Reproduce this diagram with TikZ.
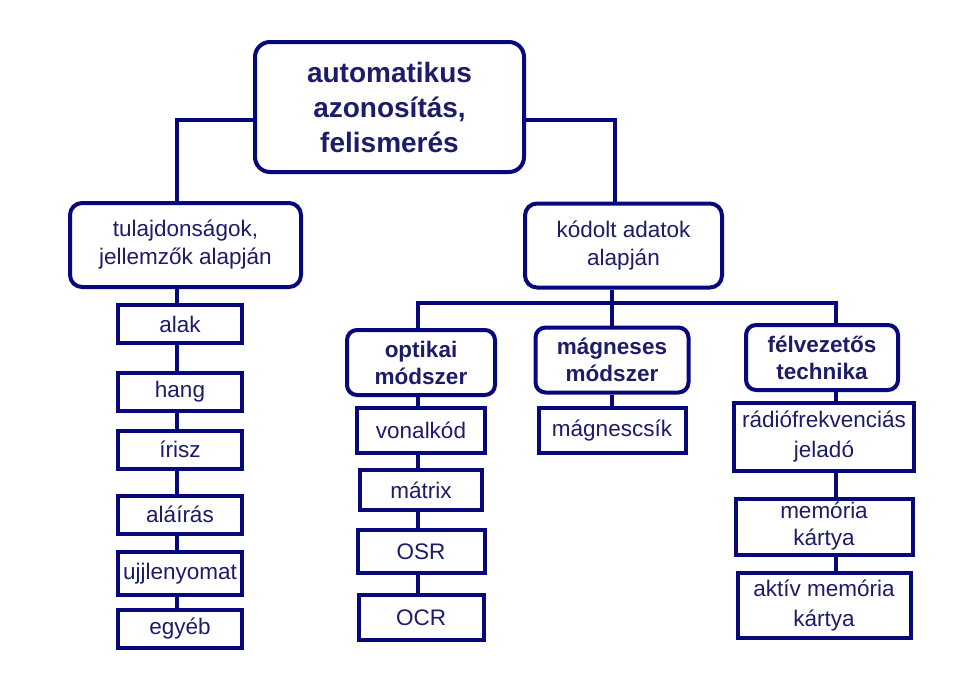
\documentclass[tikz,border=0pt]{standalone}
\usepackage{fontspec}
\setmainfont{Liberation Sans}
\definecolor{boxnavy}{RGB}{8,8,125}
\definecolor{inknavy}{RGB}{28,28,105}

\begin{document}
\begin{tikzpicture}[
    x=1pt, y=-1pt,
    rootbox/.style={
        rectangle,
        rounded corners=15pt,
        minimum width=269pt,
        minimum height=130pt,
        draw=boxnavy,
        line width=4pt,
        fill=white,
        text=inknavy,
        inner sep=0pt,
        font=\fontsize{28}{35}\selectfont\bfseries,
        align=center
    },
    groupbox/.style={
        rectangle,
        rounded corners=12pt,
        minimum height=84pt,
        draw=boxnavy,
        line width=4pt,
        fill=white,
        text=inknavy,
        inner sep=0pt,
        font=\fontsize{22.5}{28}\selectfont,
        align=center
    },
    methodbox/.style={
        rectangle,
        rounded corners=10pt,
        minimum width=150pt,
        minimum height=65pt,
        draw=boxnavy,
        line width=4pt,
        fill=white,
        text=inknavy,
        inner sep=0pt,
        font=\fontsize{22.5}{27}\selectfont\bfseries,
        align=center
    },
    leafbox/.style={
        rectangle,
        minimum width=124pt,
        minimum height=38pt,
        draw=boxnavy,
        line width=4pt,
        fill=white,
        text=inknavy,
        inner sep=0pt,
        font=\fontsize{22.5}{30}\selectfont,
        align=center
    },
    link/.style={
        draw=boxnavy,
        line width=4pt
    }
]
\useasboundingbox (0,0) rectangle (979,672);

\node[rootbox] (root) at (389.5,107) {automatikus\\azonosítás,\\felismerés};

\node[groupbox, minimum width=231pt] (tulaj) at (185.5,245) {tulajdonságok,\\jellemzők alapján};
\node[groupbox, minimum width=197pt] (kodolt) at (623.5,245.5) {kódolt adatok\\alapján};

\node[methodbox, minimum width=148pt] (optikai) at (421,362.5) {optikai\\módszer};
\node[methodbox, minimum width=153pt] (magneses) at (612,360) {mágneses\\módszer};
\node[methodbox, minimum width=152pt] (felvez) at (822,357.5) {félvezetős\\technika};

% left column
\node[leafbox] (alak) at (180,324) {alak};
\node[leafbox] (hang) at (180,391.5) {hang};
\node[leafbox] (irisz) at (180,449.5) {írisz};
\node[leafbox] (alairas) at (180,514.5) {aláírás};
\node[leafbox, minimum height=43pt] (ujj) at (180,573.5) {ujjlenyomat};
\node[leafbox] (egyeb) at (180,628.5) {egyéb};

% optical
\node[leafbox, minimum width=128pt, minimum height=45pt] (vonal) at (421,430.5) {vonalkód};
\node[leafbox, minimum width=122pt, minimum height=40pt] (matrix) at (421,490) {mátrix};
\node[leafbox, minimum width=127pt, minimum height=43pt] (osr) at (421,551.5) {OSR};
\node[leafbox, minimum width=125pt, minimum height=45pt] (ocr) at (421,617.5) {OCR};

% magnetic
\node[leafbox, minimum width=147pt, minimum height=45pt] (csik) at (612,430.5) {mágnescsík};

% semiconductor
\node[leafbox, minimum width=180pt, minimum height=68pt] (radio) at (824,437) {rádiófrekvenciás\\jeladó};
\node[leafbox, minimum width=177pt, minimum height=56pt, font=\fontsize{22.5}{27}\selectfont] (memoria) at (824,526.5) {memória\\kártya};
\node[leafbox, minimum width=173pt, minimum height=65pt] (aktiv) at (824,605.5) {aktív memória\\kártya};

% Lines
\draw[link] ([xshift=-8.5pt]tulaj.north) |- ([yshift=-13pt]root.west);
\draw[link] ([xshift=-8.5pt]kodolt.north) |- ([yshift=-13pt]root.east);

\draw[link] ([xshift=-11.5pt]kodolt.south) -- (magneses.north);
\draw[link] ([xshift=-3pt]optikai.north) -- ++(0,-25) -| ([xshift=14pt]felvez.north);

\draw[link] ([xshift=-8.5pt]tulaj.south) -- ([xshift=-3pt]alak.north);
\draw[link] ([xshift=-3pt]alak.south) -- ([xshift=-3pt]hang.north);
\draw[link] ([xshift=-3pt]hang.south) -- ([xshift=-3pt]irisz.north);
\draw[link] ([xshift=-3pt]irisz.south) -- ([xshift=-3pt]alairas.north);
\draw[link] ([xshift=-3pt]alairas.south) -- ([xshift=-3pt]ujj.north);
\draw[link] ([xshift=-3pt]ujj.south) -- ([xshift=-3pt]egyeb.north);

\draw[link] ([xshift=-3pt]optikai.south) -- ([xshift=-3pt]vonal.north);
\draw[link] ([xshift=-3pt]vonal.south) -- ([xshift=-3pt]matrix.north);
\draw[link] ([xshift=-3pt]matrix.south) -- ([xshift=-3pt]osr.north);
\draw[link] ([xshift=-3pt]osr.south) -- ([xshift=-3pt]ocr.north);

\draw[link] (magneses.south) -- (csik.north);

\draw[link] ([xshift=14pt]felvez.south) -- ([xshift=12pt]radio.north);
\draw[link] ([xshift=12pt]radio.south) -- ([xshift=12pt]memoria.north);
\draw[link] ([xshift=12pt]memoria.south) -- ([xshift=12pt]aktiv.north);

\end{tikzpicture}
\end{document}
